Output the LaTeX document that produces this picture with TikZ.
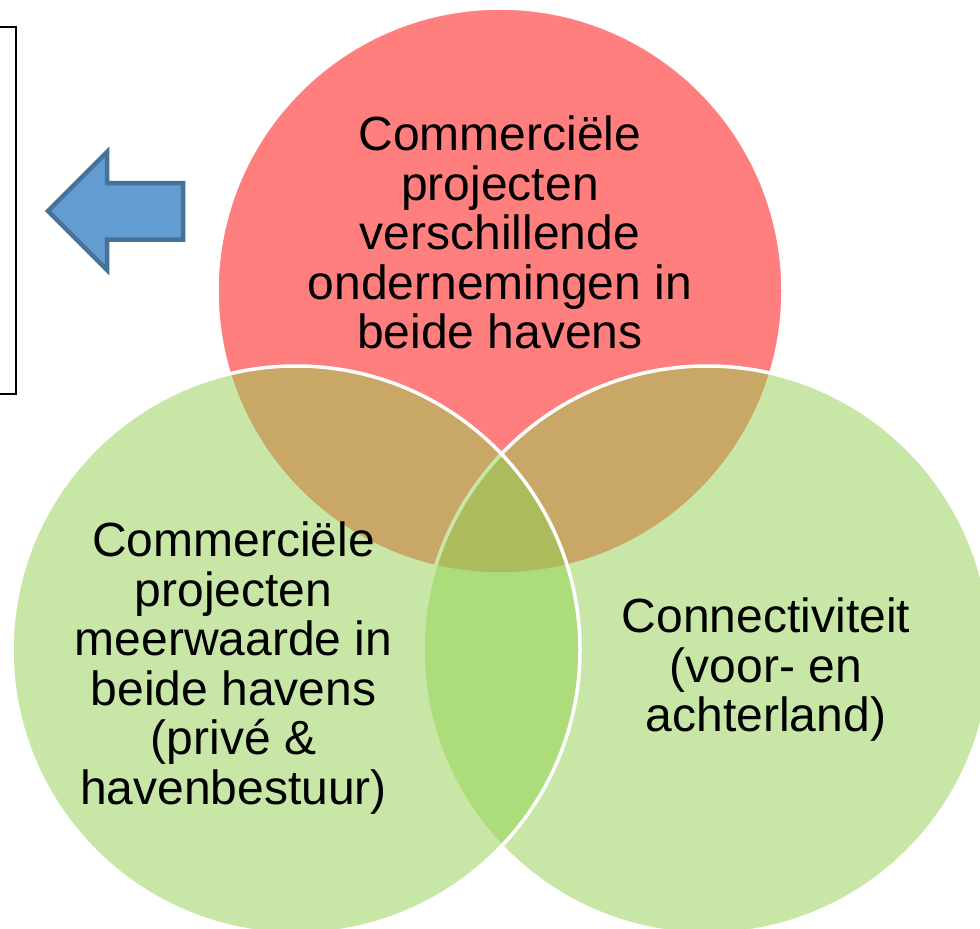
\documentclass[tikz,border=0pt]{standalone}
\usepackage{fontspec}
\setmainfont{Liberation Sans}
\usepackage{tikz}
\definecolor{venn red}{rgb}{1, 0, 0}
\definecolor{venn green}{rgb}{0.5725, 0.8157, 0.3137}
\definecolor{arrow blue}{rgb}{0.3843, 0.6118, 0.8196}
\definecolor{arrow edge}{rgb}{0.2745, 0.4471, 0.5961}
\tikzset{
	venn circle/.style = {fill = #1, fill opacity = 0.5, draw = white, line width = 3.5pt},
	venn label/.style = {text = black, align = center, anchor = north, inner sep = 0pt,
		font = \fontsize{48}{49.5}\selectfont}
}

\begin{document}
\begin{tikzpicture}[x = 1pt, y = -1pt]
			\useasboundingbox (0, 0) rectangle (980, 929);
			\clip (0, 0) rectangle (980, 929);
			% part for the three circles
			\begin{scope}
				\path[venn circle = venn red] (500, 291) circle (283);
				\path[venn circle = venn green] (707, 650) circle (284);
				\path[venn circle = venn green] (296, 650) circle (284);
			\end{scope}
			% part for the box and the arrow
			\begin{scope}
				\draw[black, line width = 2pt] (-10, 27) rectangle (16, 394);
				\filldraw[fill = arrow blue, draw = arrow edge, line width = 4.5pt, line join = miter]
					(48, 211) -- (107, 152) -- (107, 183) -- (183, 183)
					-- (183, 239.5) -- (107, 239.5) -- (107, 270) -- cycle;
			\end{scope}
			% labels
			\node[venn label] (projects) at (500, 116)
				{Commerciële\\projecten\\verschillende\\ondernemingen in\\beide havens};
			\node[venn label] (surplus) at (233.5, 522)
				{Commerciële\\projecten\\meerwaarde in\\beide havens\\(privé \&\\havenbestuur)};
			\node[venn label] (connect) at (766, 598)
				{Connectiviteit\\(voor- en\\achterland)};
		\end{tikzpicture}
\end{document}
